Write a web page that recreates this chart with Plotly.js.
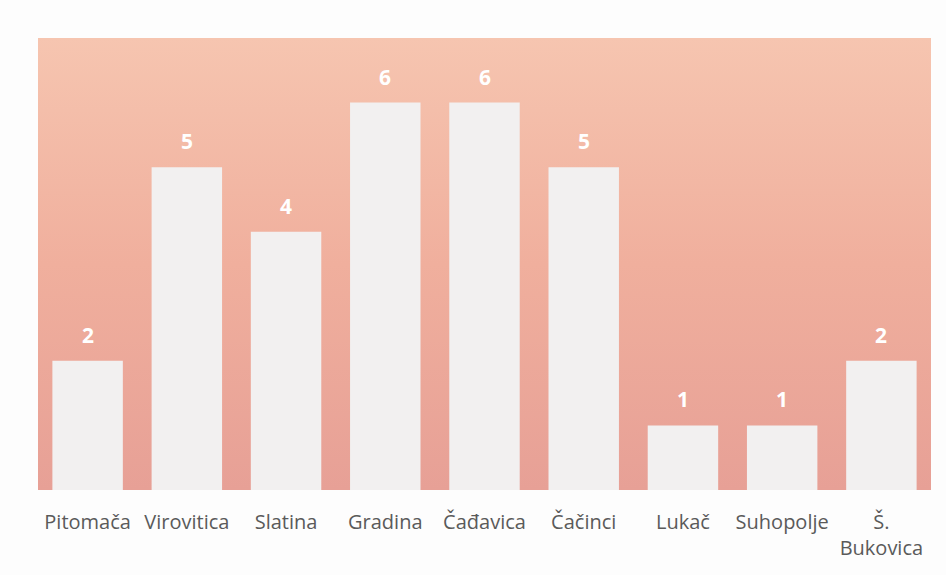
<!DOCTYPE html>
<html>
<head>
<meta charset="utf-8">
<script src="https://cdn.plot.ly/plotly-3.0.1.min.js"></script>
<style>html,body{margin:0;padding:0;background:#fdfdfd;}#chart{width:946px;height:575px;}</style>
</head>
<body>
<div id="chart"></div>
<script>
const categories = ["Pitomača", "Virovitica", "Slatina", "Gradina", "Čađavica", "Čačinci", "Lukač", "Suhopolje", "Š.<br>Bukovica"];
const values = [2, 5, 4, 6, 6, 5, 1, 1, 2];

const gradSvg = '<svg xmlns="http://www.w3.org/2000/svg" width="100" height="100" preserveAspectRatio="none">' +
  '<defs><linearGradient id="g" x1="0" y1="0" x2="0" y2="1">' +
  '<stop offset="0" stop-color="#F6C5B0"/><stop offset="0.5" stop-color="#F0AF9D"/>' +
  '<stop offset="1" stop-color="#E7A096"/></linearGradient></defs>' +
  '<rect width="100" height="100" fill="url(#g)"/></svg>';
const gradUri = 'data:image/svg+xml;base64,' + btoa(gradSvg);

const trace = {
  type: 'bar',
  x: categories,
  y: values,
  marker: {color: '#F2F0F0', line: {width: 0}},
  hoverinfo: 'x+y'
};

const annotations = categories.map((c, i) => ({
  x: c, y: values[i], xref: 'x', yref: 'y',
  text: String(values[i]), showarrow: false,
  yanchor: 'middle', yshift: 26,
  font: {family: 'Open Sans, sans-serif', size: 21, color: '#FFFFFF', weight: 'bold'}
}));

const layout = {
  width: 946, height: 575,
  margin: {l: 38, r: 15, t: 38, b: 85},
  paper_bgcolor: '#FDFDFD',
  plot_bgcolor: 'rgba(0,0,0,0)',
  bargap: 0.29,
  showlegend: false,
  font: {family: 'Open Sans, sans-serif', color: '#5A5A5A', size: 20},
  xaxis: {
    showgrid: false, zeroline: false, showline: false, ticks: '',
    tickfont: {family: 'Open Sans, sans-serif', size: 20, color: '#5A5A5A'},
    tickangle: 0, ticklabelstandoff: 18
  },
  yaxis: {
    range: [0, 7], showgrid: false, zeroline: false, showline: false,
    showticklabels: false, ticks: ''
  },
  annotations: annotations,
  images: [{
    source: gradUri, xref: 'paper', yref: 'paper',
    x: 0, y: 1, sizex: 1, sizey: 1, sizing: 'stretch',
    xanchor: 'left', yanchor: 'top', layer: 'below'
  }]
};

Plotly.newPlot('chart', [trace], layout, {displayModeBar: false, staticPlot: true});
</script>
</body>
</html>
